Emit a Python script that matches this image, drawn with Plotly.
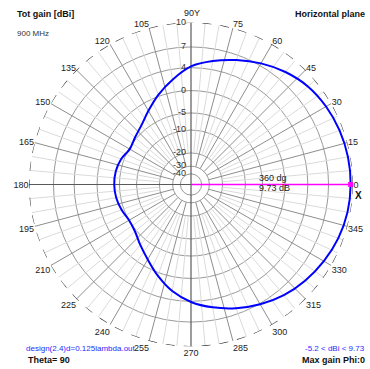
import numpy as np
import plotly.graph_objects as go

# Azimuth pattern (degrees) and total gain (dBi)
phi_deg = [0, 10, 20, 30, 40, 50, 60, 70, 80, 90, 100, 110, 120, 130, 140, 150, 160, 170, 180,
           190, 200, 210, 220, 230, 240, 250, 260, 270, 280, 290, 300, 310, 320, 330, 340, 350, 360]
gain_dbi = [9.73, 9.70, 9.55, 9.3, 8.9, 8.2, 7.3, 6.3, 5.3, 4.2, 2.3, 0.3, -1.8, -3.6, -4.6, -5.2, -4.3, -3.8, -3.7,
            -3.9, -4.4, -5.0, -4.6, -3.2, -1.5, 0.6, 2.6, 4.1, 5.2, 6.2, 7.1, 7.9, 8.5, 9.0, 9.4, 9.65, 9.73]

# Radial grid levels (dB) and their labels
ring_db = [10, 7, 4, 0, -5, -10, -20, -30, -40]
ring_labels = ["10", "7", "4", "0", "-5", "-10", "-20", "-30", "-40"]

# Angular tick positions and labels (the 90 deg label carries the Y axis name)
ang_ticks = list(range(0, 360, 15))
ang_labels = ["" if a == 90 else str(a) for a in ang_ticks]

max_phi = 0
max_gain = 9.73

K = 0.0545          # log-scale slope per dB
TOP = 10.0          # outer ring value (dB)


def to_r(db):
    return np.exp(K * (np.asarray(db, dtype=float) - TOP))


FONT = "Liberation Sans, Arial, sans-serif"
fig = go.Figure()

# spokes: light every 5 deg, darker every 15 deg
for a in range(0, 360, 5):
    if a % 90 == 0:
        continue
    if a % 15 == 0:
        r0, col = to_r(-30), "#8e8e8e"
    else:
        r0, col = to_r(-20), "#dadada"
    fig.add_trace(go.Scatterpolar(r=[r0, 1], theta=[a, a], mode="lines",
                                  line=dict(color=col, width=1), hoverinfo="skip", showlegend=False))

# main axes through the centre
for a in (0, 90):
    fig.add_trace(go.Scatterpolar(r=[1, 0, 1], theta=[a, a, a + 180], mode="lines",
                                  line=dict(color="#5a5a5a", width=1.2), hoverinfo="skip", showlegend=False))

# outer dashed circle
circ = np.arange(0, 361, 1)
fig.add_trace(go.Scatterpolar(r=np.ones_like(circ, dtype=float), theta=circ, mode="lines",
                              line=dict(color="#333333", width=1.2, dash="dash"),
                              hoverinfo="skip", showlegend=False))

# ring labels beside the vertical axis
fig.add_trace(go.Scatterpolar(r=to_r(ring_db), theta=[90] * len(ring_db), mode="text",
                              text=[t + "&nbsp;&nbsp;" for t in ring_labels], textposition="middle left",
                              textfont=dict(family=FONT, size=9, color="#333333"),
                              hoverinfo="skip", showlegend=False, cliponaxis=False))

# pattern
fig.add_trace(go.Scatterpolar(r=to_r(gain_dbi), theta=phi_deg, mode="lines",
                              line=dict(color="#0000ff", width=2, shape="spline"),
                              showlegend=False))

# max-gain cursor
fig.add_trace(go.Scatterpolar(r=[0, float(to_r(max_gain))], theta=[max_phi, max_phi], mode="lines",
                              line=dict(color="#ff00ff", width=1.5), showlegend=False))
fig.add_trace(go.Scatterpolar(r=[float(to_r(max_gain))], theta=[max_phi], mode="markers",
                              marker=dict(color="#ff00ff", size=5, symbol="square"), showlegend=False))

W, H = 370, 369
cx, cy, R = 191, 184.5, 162

fig.update_layout(
    width=W, height=H,
    margin=dict(l=0, r=0, t=0, b=0),
    paper_bgcolor="white",
    font=dict(family=FONT, size=9, color="#222222"),
    polar=dict(
        domain=dict(x=[(cx - R) / W, (cx + R) / W], y=[(H - cy - R) / H, (H - cy + R) / H]),
        bgcolor="white",
        radialaxis=dict(range=[0, 1], tickvals=to_r(ring_db).tolist(), showticklabels=False,
                        angle=90, showline=False, ticks="", gridcolor="#9a9a9a", gridwidth=1),
        angularaxis=dict(tickvals=ang_ticks, ticktext=ang_labels, direction="counterclockwise",
                         rotation=0, showgrid=False, showline=False, ticks="",
                         tickfont=dict(size=9, color="#222222", family=FONT)),
    ),
)


def px_note(x, y, text, xanchor="center", **kw):
    base = dict(x=x / W, y=1 - y / H, xref="paper", yref="paper", text=text, showarrow=False,
                xanchor=xanchor, yanchor="middle",
                font=dict(family=FONT, size=9, color="#111111"))
    base.update(kw)
    fig.add_annotation(**base)


px_note(15, 14, "<b>Tot gain [dBi]</b>", xanchor="left")
px_note(15, 33, "900 MHz", xanchor="left", font=dict(family=FONT, size=8, color="#333333"))
px_note(367, 14, "<b>Horizontal plane</b>", xanchor="right")
px_note(192, 13, "90Y", font=dict(family=FONT, size=9, color="#222222"))
px_note(24, 348, "design(2.4)d=0.125lambda.out", xanchor="left",
        font=dict(family=FONT, size=8, color="#2a2aff"))
px_note(26, 360, "<b>Theta= 90</b>", xanchor="left")
px_note(367, 348, "-5.2 &lt; dBi &lt; 9.73", xanchor="right",
        font=dict(family=FONT, size=8, color="#2a2aff"))
px_note(367, 360, "<b>Max gain Phi:0</b>", xanchor="right")
px_note(273, 178, "360 dg", font=dict(family=FONT, size=9, color="#222222"))
px_note(274, 188, "9.73 dB", font=dict(family=FONT, size=9, color="#222222"))
px_note(358, 195, "<b>X</b>", font=dict(family=FONT, size=10, color="#111111"))

fig.write_html("out.html")
